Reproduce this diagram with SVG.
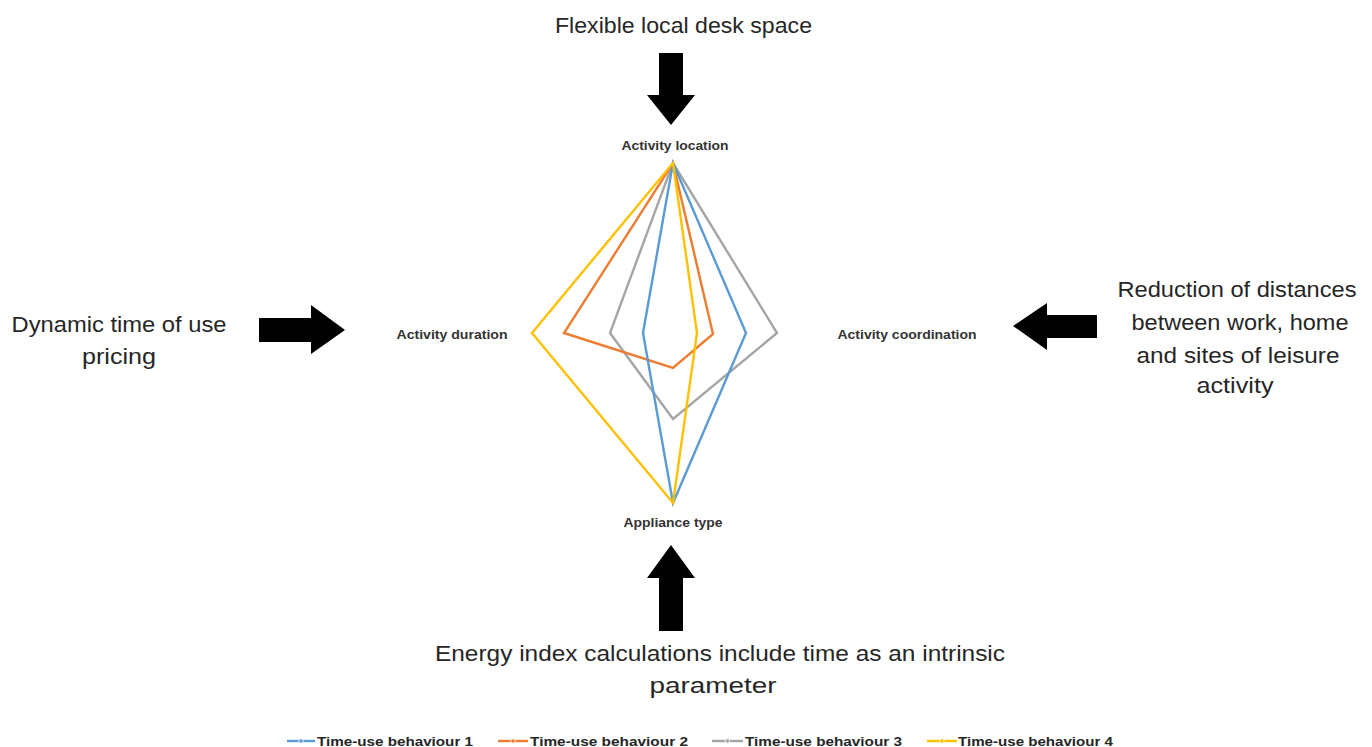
<svg xmlns="http://www.w3.org/2000/svg" width="1372" height="747" viewBox="0 0 1372 747">
<style>
.big{font-family:"Liberation Sans",Arial,sans-serif;font-size:22px;fill:#262626;text-anchor:middle}
.ax{font-family:"Liberation Sans",Arial,sans-serif;font-size:12px;font-weight:bold;fill:#333;text-anchor:middle}
.lg{font-family:"Liberation Sans",Arial,sans-serif;font-size:12.5px;font-weight:bold;fill:#262626}
.arrow{fill:#000}
.s{fill:none;stroke-width:2.4;stroke-linejoin:miter}
.b{stroke:#5B9BD5}.o{stroke:#ED7D31}.g{stroke:#A5A5A5}.y{stroke:#FFC000}
</style>
<rect width="1372" height="747" fill="#fff"/>
<g id="label-top"><text class="big" x="683.5" y="33" textLength="257" lengthAdjust="spacingAndGlyphs">Flexible local desk space</text></g>
<g id="label-left">
<text class="big" x="119" y="332" textLength="215" lengthAdjust="spacingAndGlyphs">Dynamic time of use</text>
<text class="big" x="119" y="364" textLength="74" lengthAdjust="spacingAndGlyphs">pricing</text>
</g>
<g id="label-right">
<text class="big" x="1237" y="297" textLength="239" lengthAdjust="spacingAndGlyphs">Reduction of distances</text>
<text class="big" x="1240" y="330" textLength="217" lengthAdjust="spacingAndGlyphs">between work, home</text>
<text class="big" x="1238" y="363" textLength="203" lengthAdjust="spacingAndGlyphs">and sites of leisure</text>
<text class="big" x="1235" y="393" textLength="77" lengthAdjust="spacingAndGlyphs">activity</text>
</g>
<g id="label-bottom">
<text class="big" x="720" y="661" textLength="570" lengthAdjust="spacingAndGlyphs">Energy index calculations include time as an intrinsic</text>
<text class="big" x="713" y="693" textLength="127" lengthAdjust="spacingAndGlyphs">parameter</text>
</g>
<g id="arrows">
<polygon id="arrow-top" class="arrow" points="659,53 683,53 683,95 695,95 671,125 647,95 659,95"/>
<polygon id="arrow-left" class="arrow" points="259,318 311,318 311,305 345,330 311,354 311,342 259,342"/>
<polygon id="arrow-right" class="arrow" points="1097,315 1047,315 1047,303 1013,326 1047,350 1047,338 1097,338"/>
<polygon id="arrow-bottom" class="arrow" points="659,631 683,631 683,578 695,578 671,545 647,578 659,578"/>
</g>
<g id="radar-chart">
<g id="axis-labels">
<text class="ax" x="675" y="150" textLength="107" lengthAdjust="spacingAndGlyphs">Activity location</text>
<text class="ax" x="452" y="339" textLength="111" lengthAdjust="spacingAndGlyphs">Activity duration</text>
<text class="ax" x="907" y="339" textLength="139" lengthAdjust="spacingAndGlyphs">Activity coordination</text>
<text class="ax" x="673" y="527" textLength="99" lengthAdjust="spacingAndGlyphs">Appliance type</text>
</g>
<g id="series">
<polygon class="s g" points="673,163 777,333 673,419 610,333"/>
<polygon class="s o" points="673,163 713,334 673,368 564,333"/>
<polygon class="s b" points="673,163 746,333 673,503 643,333"/>
<polygon class="s y" points="673,163 697,333 673,503 532,333"/>
</g>
</g>
<g id="legend">
<line class="b" x1="287" y1="741" x2="315" y2="741" stroke-width="2.4"/><circle cx="301" cy="741" r="2.2" fill="#5B9BD5" stroke="#fff" stroke-width="0.8"/>
<text class="lg" x="317" y="745.5" textLength="156" lengthAdjust="spacingAndGlyphs">Time-use behaviour 1</text>
<line class="o" x1="498" y1="741" x2="528" y2="741" stroke-width="2.4"/><circle cx="513" cy="741" r="2.2" fill="#ED7D31" stroke="#fff" stroke-width="0.8"/>
<text class="lg" x="530" y="745.5" textLength="158" lengthAdjust="spacingAndGlyphs">Time-use behaviour 2</text>
<line class="g" x1="712" y1="741" x2="743" y2="741" stroke-width="2.4"/><circle cx="727.5" cy="741" r="2.2" fill="#A5A5A5" stroke="#fff" stroke-width="0.8"/>
<text class="lg" x="745" y="745.5" textLength="157" lengthAdjust="spacingAndGlyphs">Time-use behaviour 3</text>
<line class="y" x1="927" y1="741" x2="957" y2="741" stroke-width="2.4"/><circle cx="942" cy="741" r="2.2" fill="#FFC000" stroke="#fff" stroke-width="0.8"/>
<text class="lg" x="958" y="745.5" textLength="155" lengthAdjust="spacingAndGlyphs">Time-use behaviour 4</text>
</g>
</svg>
